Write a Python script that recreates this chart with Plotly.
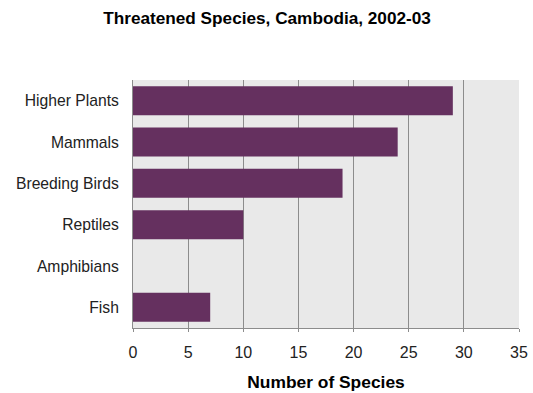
import plotly.graph_objects as go

# Threatened species counts by group
categories = ["Higher Plants", "Mammals", "Breeding Birds", "Reptiles", "Amphibians", "Fish"]
values = [29, 24, 19, 10, 0, 7]
x_ticks = [0, 5, 10, 15, 20, 25, 30, 35]

BAR = "#65305f"
GRID = "#8c8c8c"
FONT = "Liberation Sans, Arial, sans-serif"

fig = go.Figure(
    go.Bar(
        x=values,
        y=categories,
        orientation="h",
        marker=dict(color=BAR, line=dict(width=0)),
        width=0.7,
    )
)

fig.update_layout(
    width=533,
    height=393,
    margin=dict(l=133, r=14, t=80, b=65, autoexpand=False),
    paper_bgcolor="white",
    plot_bgcolor="#e9e9e9",
    showlegend=False,
    font=dict(family=FONT, size=16, color="#222"),
    title=dict(
        text="<b>Threatened Species, Cambodia, 2002-03</b>",
        x=0.501,
        xanchor="center",
        y=0.955,
        yanchor="middle",
        font=dict(family=FONT, size=17.2, color="#000"),
    ),
    xaxis=dict(
        range=[0, 35],
        tickvals=x_ticks,
        ticktext=[str(v) for v in x_ticks],
        showgrid=True,
        gridcolor=GRID,
        gridwidth=1,
        zeroline=False,
        showline=True,
        linecolor=GRID,
        linewidth=1,
        ticks="outside",
        ticklen=3,
        tickcolor=GRID,
        ticklabelstandoff=7,
        tickfont=dict(family=FONT, size=16, color="#222"),
        title=dict(
            text="<b>Number of Species</b>",
            font=dict(family=FONT, size=17.4, color="#000"),
            standoff=15,
        ),
        automargin=False,
        fixedrange=True,
    ),
    yaxis=dict(
        categoryorder="array",
        categoryarray=categories[::-1],
        showgrid=False,
        zeroline=False,
        showline=True,
        linecolor=GRID,
        linewidth=1,
        ticks="",
        ticklabelstandoff=10,
        tickfont=dict(family=FONT, size=15.7, color="#222"),
        automargin=False,
        fixedrange=True,
    ),
)

fig.write_html("out.html")
